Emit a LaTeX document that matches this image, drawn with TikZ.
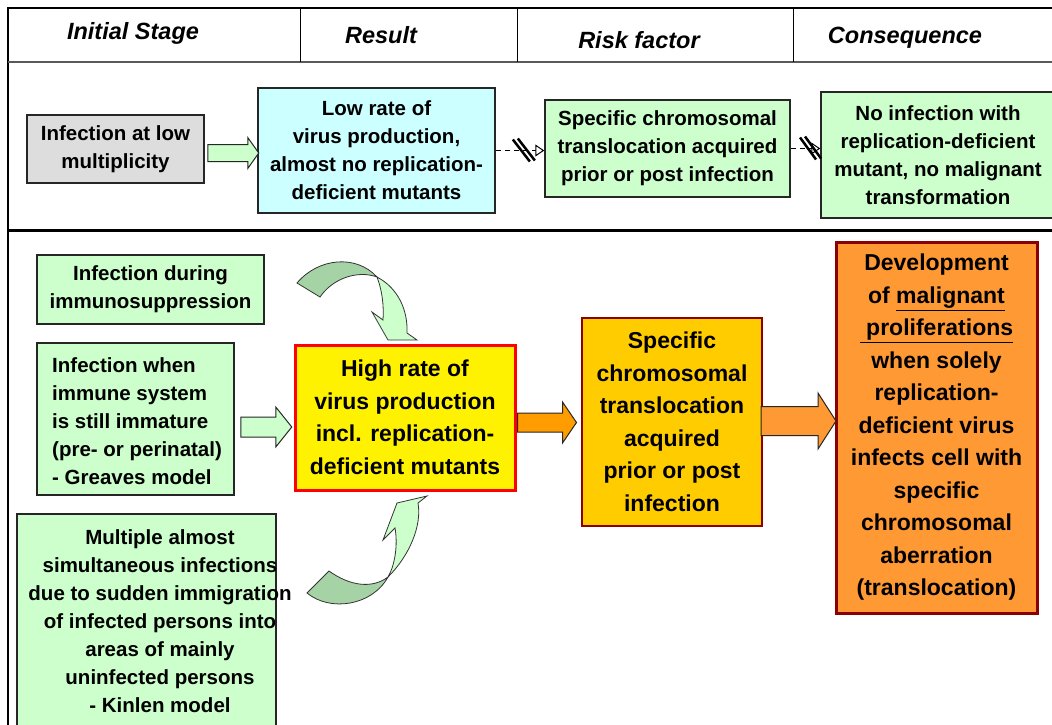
\documentclass[tikz,border=0pt]{standalone}
\usepackage{fontspec}
\setmainfont{Liberation Sans}
\usetikzlibrary{arrows.meta,calc}
\definecolor{lgreen}{HTML}{CCFFCC}
\definecolor{dgreen}{HTML}{A6D3A6}
\definecolor{lcyan}{HTML}{CCFFFF}
\definecolor{lgray}{HTML}{DDDDDD}
\definecolor{gold}{HTML}{FFCC00}
\definecolor{orng}{HTML}{FF9933}
\definecolor{darr}{HTML}{FF9C00}
\definecolor{dred}{HTML}{8B0000}
\newcommand\boxfont{\fontsize{20.5}{28}\selectfont\bfseries}
\newcommand\bigfont{\fontsize{23}{32.5}\selectfont\bfseries}
\newcommand\hdrfont{\fontsize{23.5}{26}\selectfont\bfseries\itshape}
\newcommand\blockarr[6]{%
  \draw[#1] #2 ++(0,-#4) -- ++(#3,0) -- ++(0,{-(#6-#4)}) -- ++(#5,#6) -- ++(-#5,#6) -- ++(0,{-(#6-#4)}) -- ++(-#3,0) -- cycle;}
\begin{document}
\begin{tikzpicture}[x=1pt,y=-1pt,
  box/.style={draw=black!85, line width=1.5pt, inner sep=0pt, align=center, font=\boxfont},
  txt/.style={inner sep=0pt, font=\boxfont},
  hdr/.style={inner sep=0pt, font=\hdrfont},
  garrow/.style={draw=black!85, line width=1pt, fill=lgreen},
  oarrow/.style={draw=black!85, line width=1pt, fill=darr},
  oarrowb/.style={draw=black!85, line width=1pt, fill=orng},
  curvelight/.style={draw=black!80, line width=0.8pt, fill=lgreen},
  curvedark/.style={draw=black!80, line width=0.8pt, fill=dgreen},
  conn/.style={line width=1pt, dash pattern=on 5pt off 4pt, -{Triangle[open,length=9pt,width=12pt]}},
  slash/.style={line width=2.5pt}]
\useasboundingbox (0,0) rectangle (1052,724);
\fill[white] (0,0) rectangle (1052,724);

% frame
\draw[line width=2.5pt] (8,726) -- (8,8) -- (1056,8);
\draw[line width=2pt, black!65] (8,62) -- (1056,62);
\draw[line width=1pt] (300,8) -- (300,62);
\draw[line width=1pt] (517,8) -- (517,62);
\draw[line width=1pt] (793,8) -- (793,62);
\draw[line width=3pt] (8,230) -- (1056,230);

% headers
\node[hdr] (h1) at (133,33) {Initial Stage};
\node[hdr] (h2) at (381,35) {Result};
\node[hdr] (h3) at (639,40) {Risk factor};
\node[hdr] (h4) at (905,38) {Consequence};

% top row
\node[box, fill=lgray, minimum width=177, minimum height=68] (gray) at (115.5,149) {Infection at low\\multiplicity};
\node[box, fill=lcyan, minimum width=237, minimum height=125] (cyan) at (376.5,150.5) {Low rate of\\virus production,\\almost no replication-\\deficient mutants};
\node[box, fill=lgreen, minimum width=245, minimum height=97] (trans1) at (667.5,148.5) {Specific chromosomal\\translocation acquired\\prior or post infection};
\node[box, fill=lgreen, minimum width=234, minimum height=126] (noinf) at (938,155) {No infection with\\replication-deficient\\mutant, no malignant\\transformation};

\blockarr{garrow}{([xshift=3pt,yshift=-4pt]gray.east)}{40}{8.5}{11}{15.5}

\draw[conn] (cyan.east) -- (cyan.east -| trans1.west) coordinate[pos=0.6] (m1);
\draw[slash] ($(m1)+(-12,-11)$) -- ($(m1)+(5,11)$);
\draw[slash] ($(m1)+(-7,-12)$) -- ($(m1)+(10,10)$);
\draw[conn] (trans1.east) -- (trans1.east -| noinf.west) coordinate[pos=0.62] (m2);
\draw[slash] ($(m2)+(-9,-11)$) -- ($(m2)+(7,11)$);
\draw[slash] ($(m2)+(-4,-12)$) -- ($(m2)+(12,10)$);

% bottom section
\node[box, fill=lgreen, minimum width=227, minimum height=69] (immuno) at (150.5,289.5) {Infection during\\immunosuppression};
\node[box, fill=lgreen, minimum width=197, minimum height=152] (greaves) at (135.5,419) {};
\node[txt, anchor=west, align=left] (greavest) at (52,421) {Infection when\\immune system\\is still immature\\(pre- or perinatal)\\- Greaves model};
\node[box, fill=lgreen, minimum width=259, minimum height=218] (kinlen) at (146.5,623) {};
\node[txt, align=center] (kinlent) at (160,621) {Multiple almost\\simultaneous infections\\due to sudden immigration\\of infected persons into\\areas of mainly\\uninfected persons\\- Kinlen model};

\node[box, draw=red, line width=3pt, fill=yellow, font=\bigfont, minimum width=220, minimum height=145] (high) at (405,417.5) {High rate of\\virus production\\incl. replication-\\deficient mutants};
\node[box, draw=dred, line width=2pt, fill=gold, font=\bigfont, minimum width=180, minimum height=208] (trans2) at (672,422) {Specific\\chromosomal\\translocation\\acquired\\prior or post\\infection};
\node[box, draw=dred, line width=3pt, fill=orng, font=\bigfont, minimum width=201, minimum height=371] (dev) at (936.5,427.5) {Development\\of \underline{malignant}\\\underline{\ proliferations}\\when solely\\replication-\\deficient virus\\infects cell with\\specific\\chromosomal\\aberration\\(translocation)};

\blockarr{garrow}{([xshift=6pt,yshift=-8pt]greaves.east)}{35}{10}{16}{20}
\blockarr{oarrow}{([xshift=1pt,yshift=-5pt]high.east)}{45}{9.5}{14}{20.5}
\blockarr{oarrowb}{([xshift=-2pt,yshift=1pt]trans2.east)}{57}{14.5}{18}{28}

% curved arrows
\filldraw[curvedark] (297,283) .. controls (318,258) and (356,254) .. (377,277) .. controls (358,270) and (333,278) .. (320,297) -- cycle;
\filldraw[curvelight] (377,277) .. controls (398,288) and (408,310) .. (407,333) -- (417,340) -- (388,340) -- (372,312) -- (383,320) .. controls (384,305) and (382,290) .. (377,277) -- cycle;
\filldraw[curvedark] (307,593) .. controls (330,612) and (372,606) .. (388,577) .. controls (372,589) and (350,586) .. (329,571) -- cycle;
\filldraw[curvelight] (388,577) .. controls (410,555) and (422,525) .. (418,503) -- (427,496) -- (397,503) -- (383,540) -- (395,528) .. controls (398,545) and (395,565) .. (388,577) -- cycle;
\end{tikzpicture}
\end{document}
